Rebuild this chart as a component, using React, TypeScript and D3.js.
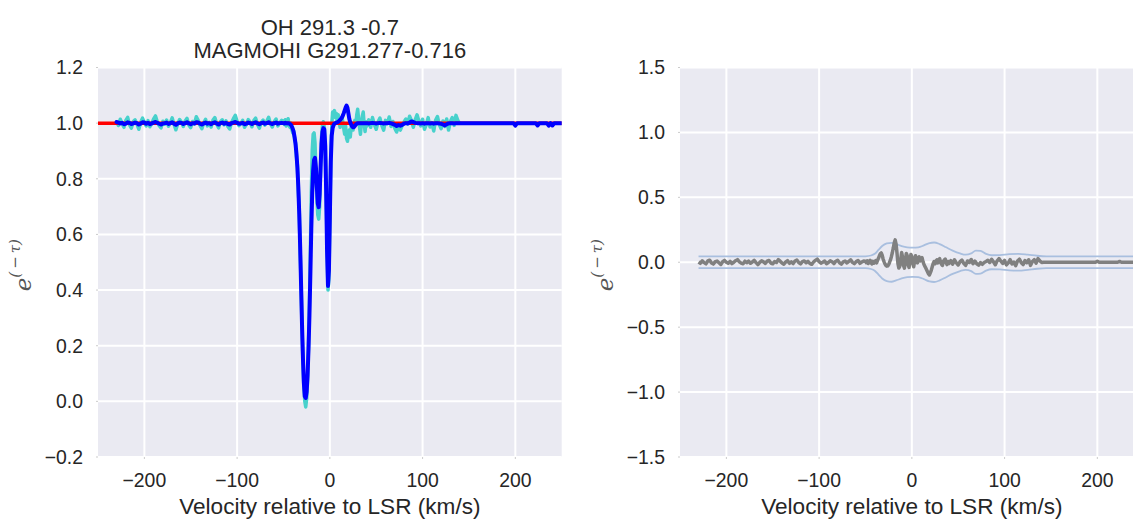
import React from 'react';
import * as d3 from 'd3';

const W = 1133;
const H = 521;

// Channel velocities (km/s): 2 km/s wings, 1 km/s across the absorption core
const velWing = d3.range(-230, -50, 2);
const velCore = d3.range(-50, 40, 1);
const velRed = d3.range(40, 141, 2);
const velTail = d3.range(142, 251, 2);

// Observed e^(-tau) spectrum
const dataWing = [
  1.005, 0.992, 1.014, 0.998, 0.985, 1.010, 1.021, 0.994, 0.982, 1.006,
  1.012, 0.996, 0.978, 1.003, 1.018, 1.002, 0.990, 1.009, 0.987, 0.999,
  1.015, 1.026, 1.004, 0.991, 0.983, 1.007, 0.996, 1.011, 0.989, 1.002,
  1.019, 0.995, 0.976, 0.998, 1.013, 1.004, 0.988, 1.008, 1.017, 0.993,
  0.984, 1.006, 0.997, 1.023, 1.010, 0.992, 0.980, 1.001, 1.014, 0.990,
  1.003, 0.986, 1.011, 1.020, 0.997, 0.983, 1.005, 1.012, 0.994, 1.008,
  0.988, 0.979, 1.002, 1.016, 1.028, 1.006, 0.991, 0.999, 1.010, 0.985,
  0.996, 1.013, 1.004, 0.987, 1.009, 1.018, 0.995, 0.982, 1.003, 1.011,
  0.993, 1.007, 1.021, 0.998, 0.986, 1.005, 1.015, 0.990, 1.002, 1.010,
];
const dataCore = [
  1.008, 0.995, 1.012, 0.990, 1.004, 1.016, 0.993, 0.985, 1.001, 0.978,
  0.965, 0.972, 0.940, 0.930, 0.880, 0.850, 0.760, 0.690, 0.540, 0.420,
  0.260, 0.140, 0.050, 0.000, -0.020, 0.010, 0.080, 0.200, 0.350, 0.540,
  0.750, 0.900, 0.960, 0.965, 0.930, 0.820, 0.730, 0.670, 0.655, 0.700,
  0.830, 0.950, 0.990, 1.005, 0.985, 0.930, 0.770, 0.560, 0.400, 0.440,
  0.650, 0.870, 0.990, 1.040, 1.030, 1.045, 1.020, 1.035, 1.005, 1.030,
  1.010, 0.985, 0.998, 1.020, 1.005, 0.980, 0.960, 0.990, 0.945, 0.935,
  0.960, 0.975, 0.950, 0.985, 1.000, 0.975, 0.990, 1.010, 0.995, 1.030,
  1.050, 1.015, 0.985, 0.960, 1.000, 1.025, 1.040, 0.995, 0.970, 1.005,
];
const dataRed = [
  0.990, 1.012, 0.985, 1.020, 0.995, 0.978, 1.005, 1.018, 0.992, 0.975,
  1.010, 0.998, 1.022, 0.988, 1.006, 0.982, 0.968, 0.990, 0.975, 0.992,
  1.004, 1.015, 0.997, 1.025, 1.010, 0.985, 1.012, 1.030, 1.008, 0.990,
  1.014, 0.978, 0.995, 1.020, 0.986, 1.002, 0.972, 1.010, 1.024, 0.995,
  0.980, 1.008, 0.988, 1.015, 0.975, 1.006, 1.020, 0.992, 1.028, 1.010,
  0.998,
];

// Gaussian fit to the spectrum
const fitWing = [
  1.004, 1.002, 0.999, 1.001, 0.996, 0.998, 1.003, 1.001, 0.997, 0.999,
  1.002, 1.000, 0.995, 0.998, 1.003, 1.002, 0.998, 1.001, 0.996, 0.999,
  1.002, 1.004, 1.001, 0.998, 0.995, 0.999, 1.000, 1.002, 0.997, 1.000,
  1.003, 0.998, 0.994, 0.999, 1.002, 1.001, 0.997, 1.000, 1.003, 0.999,
  0.996, 1.000, 0.999, 1.003, 1.002, 0.998, 0.995, 0.999, 1.002, 0.998,
  1.000, 0.996, 1.001, 1.003, 0.999, 0.995, 1.000, 1.002, 0.998, 1.001,
  0.997, 0.995, 1.000, 1.002, 1.004, 1.001, 0.998, 0.999, 1.001, 0.996,
  0.998, 1.002, 1.000, 0.997, 1.001, 1.003, 0.999, 0.996, 1.000, 1.002,
  0.998, 1.000, 1.003, 0.999, 0.997, 1.000, 1.002, 0.998, 1.000, 1.001,
];
const fitCore = [
  1.000, 0.999, 1.001, 1.000, 0.999, 1.000, 0.999, 0.997, 0.994, 0.988,
  0.980, 0.968, 0.950, 0.925, 0.890, 0.840, 0.770, 0.675, 0.555, 0.415,
  0.275, 0.155, 0.065, 0.018, 0.012, 0.035, 0.095, 0.190, 0.310, 0.460,
  0.620, 0.750, 0.830, 0.868, 0.875, 0.840, 0.770, 0.710, 0.698, 0.745,
  0.840, 0.925, 0.968, 0.982, 0.978, 0.920, 0.760, 0.540, 0.415, 0.470,
  0.660, 0.860, 0.955, 0.982, 0.993, 0.998, 1.000, 1.002, 1.003, 1.005,
  1.008, 1.011, 1.015, 1.020, 1.027, 1.036, 1.046, 1.056, 1.063, 1.055,
  1.035, 1.015, 1.003, 0.995, 0.988, 0.985, 0.986, 0.990, 0.995, 0.998,
  1.000, 1.000, 1.000, 1.000, 1.000, 1.000, 1.000, 1.000, 1.000, 1.000,
];
const fitRed = [
  1.000, 0.999, 1.000, 1.001, 1.000, 0.999, 1.000, 1.001, 1.000, 0.999,
  1.000, 1.000, 1.001, 0.999, 0.997, 0.994, 0.990, 0.993, 0.991, 0.994,
  0.998, 1.000, 0.999, 1.002, 1.006, 1.004, 1.001, 1.000, 1.000, 0.999,
  1.000, 0.998, 1.000, 1.000, 0.999, 1.000, 0.998, 1.000, 1.000, 0.999,
  0.998, 0.995, 0.992, 0.996, 0.999, 1.000, 1.000, 0.999, 1.000, 1.000,
  1.000,
];
const fitTail = [
  1.000, 1.000, 1.000, 1.000, 1.000, 1.000, 1.000, 1.000, 1.000, 1.000,
  1.000, 1.000, 1.000, 1.000, 1.000, 1.000, 1.000, 1.000, 1.000, 1.000,
  1.000, 1.000, 1.000, 1.000, 1.000, 1.000, 1.000, 1.000, 1.000, 0.991,
  1.000, 1.000, 1.000, 1.000, 1.000, 1.000, 1.000, 1.000, 1.000, 1.000,
  1.000, 0.992, 1.000, 1.000, 1.000, 1.000, 1.000, 0.991, 1.000, 0.992,
  1.000, 1.000, 1.000, 1.000, 1.000,
];

// Residuals (data minus fit)
const residWing = [
  0.002, -0.008, 0.011, -0.003, -0.012, 0.010, 0.016, -0.006, -0.014, 0.005,
  0.009, -0.004, -0.017, 0.004, 0.014, 0.000, -0.008, 0.007, -0.010, 0.000,
  0.012, 0.020, 0.003, -0.007, -0.012, 0.008, -0.004, 0.009, -0.008, 0.002,
  0.015, -0.003, -0.018, -0.001, 0.011, 0.003, -0.009, 0.008, 0.014, -0.006,
  -0.012, 0.006, -0.002, 0.020, 0.008, -0.006, -0.015, 0.002, 0.012, -0.008,
  0.003, -0.010, 0.010, 0.017, -0.002, -0.012, 0.005, 0.010, -0.004, 0.007,
  -0.009, -0.016, 0.002, 0.014, 0.024, 0.005, -0.007, 0.000, 0.009, -0.011,
  -0.002, 0.011, 0.004, -0.010, 0.008, 0.015, -0.004, -0.014, 0.003, 0.009,
  -0.005, 0.007, 0.018, -0.001, -0.011, 0.005, 0.013, -0.008, 0.002, 0.009,
];
const residCore = [
  0.008, -0.004, 0.011, -0.010, 0.005, 0.014, -0.006, -0.012, 0.007, -0.008,
  0.004, 0.012, -0.005, 0.015, 0.030, 0.050, 0.065, 0.072, 0.055, 0.025,
  0.005, -0.012, -0.025, -0.030, -0.028, -0.018, 0.000, 0.020, 0.045, 0.075,
  0.110, 0.150, 0.172, 0.140, 0.070, -0.010, -0.045, -0.030, 0.020, 0.075,
  0.040, -0.025, -0.045, 0.010, 0.068, 0.050, -0.020, -0.040, 0.015, 0.060,
  0.045, -0.010, -0.035, 0.010, 0.050, 0.030, -0.005, 0.020, 0.042, 0.010,
  0.025, 0.035, 0.005, -0.015, -0.030, -0.045, -0.060, -0.075, -0.090, -0.098,
  -0.080, -0.060, -0.035, -0.010, 0.005, -0.012, 0.010, 0.018, -0.005, 0.020,
  0.028, 0.002, -0.015, -0.025, 0.008, 0.018, 0.025, -0.005, -0.018, 0.006,
];
const residRed = [
  -0.010, 0.012, -0.015, 0.019, -0.005, -0.021, 0.005, 0.017, -0.008, -0.024,
  0.010, -0.002, 0.021, -0.011, 0.009, -0.012, -0.022, -0.003, -0.016, -0.002,
  0.006, 0.015, -0.002, 0.023, 0.004, -0.019, 0.011, 0.028, 0.008, -0.009,
  0.014, -0.020, -0.005, 0.020, -0.013, 0.002, -0.026, 0.010, 0.024, -0.004,
  -0.018, 0.013, -0.004, 0.019, -0.024, 0.006, 0.020, -0.007, 0.028, 0.010,
  -0.002,
];
const residTail = [
  0, 0, 0, 0, 0, 0, 0, 0, 0, 0,
  0, 0, 0, 0, 0, 0, 0, 0, 0, 0,
  0, 0, 0, 0, 0, 0, 0, 0, 0, 0.008,
  0, 0, 0, 0, 0, 0, 0, 0, 0, 0,
  0, 0.006, 0, 0, 0, 0, 0, 0, 0, 0,
  0, 0, 0, 0, 0,
];

// 1-sigma noise envelope for the residuals
const sigmaVel = [
  -230, -50, -44, -40, -36, -32, -27, -22, -17, -11, -5, 1, 7, 13, 19, 24, 30,
  37, 44, 52, 58, 64, 69, 74, 80, 86, 95, 105, 115, 125, 135, 145, 250,
];
const sigmaVal = [
  0.046, 0.046, 0.052, 0.065, 0.095, 0.125, 0.145, 0.150, 0.140, 0.125, 0.115,
  0.112, 0.115, 0.130, 0.148, 0.152, 0.140, 0.115, 0.090, 0.068, 0.058, 0.068,
  0.090, 0.088, 0.065, 0.054, 0.055, 0.062, 0.064, 0.058, 0.050, 0.046, 0.046,
];

const continuumLevel = 1.0;
const xTicks = [-200, -100, 0, 100, 200];
const leftYTicks = [-0.2, 0.0, 0.2, 0.4, 0.6, 0.8, 1.0, 1.2];
const rightYTicks = [-1.5, -1.0, -0.5, 0.0, 0.5, 1.0, 1.5];
const titleLines = ['OH 291.3 -0.7', 'MAGMOHI G291.277-0.716'];
const xLabel = 'Velocity relative to LSR (km/s)';

type Pt = [number, number];
const zip = (v: number[], y: number[]): Pt[] =>
  v.slice(0, Math.min(v.length, y.length)).map((d, i) => [d, y[i]] as Pt);

const dataSeries: Pt[] = [
  ...zip(velWing, dataWing),
  ...zip(velCore, dataCore),
  ...zip(velRed, dataRed),
];
const fitSeries: Pt[] = [
  ...zip(velWing, fitWing),
  ...zip(velCore, fitCore),
  ...zip(velRed, fitRed),
  ...zip(velTail, fitTail),
];
const residSeries: Pt[] = [
  ...zip(velWing, residWing),
  ...zip(velCore, residCore),
  ...zip(velRed, residRed),
  ...zip(velTail, residTail),
];
const sigmaSeries: Pt[] = zip(sigmaVel, sigmaVal);

const FONT = '"Liberation Sans", Arial, sans-serif';
const TEXT = '#262626';
const BG = '#EAEAF2';

type Box = { left: number; right: number; top: number; bottom: number };

function Panel({
  box,
  yTicks,
  children,
  x,
  y,
}: {
  box: Box;
  yTicks: number[];
  children: React.ReactNode;
  x: d3.ScaleLinear<number, number>;
  y: d3.ScaleLinear<number, number>;
}) {
  const fmtY = d3.format('.1f');
  const fmtX = d3.format('d');
  const cx = (box.left + box.right) / 2;
  const cy = (box.top + box.bottom) / 2;
  return (
    <g>
      <rect
        x={box.left}
        y={box.top}
        width={box.right - box.left}
        height={box.bottom - box.top}
        fill={BG}
      />
      {xTicks.map((t) => (
        <line
          key={'gx' + t}
          x1={x(t)}
          x2={x(t)}
          y1={box.top}
          y2={box.bottom}
          stroke="#fff"
          strokeWidth={2}
        />
      ))}
      {yTicks.map((t) => (
        <line
          key={'gy' + t}
          x1={box.left}
          x2={box.right}
          y1={y(t)}
          y2={y(t)}
          stroke="#fff"
          strokeWidth={2}
        />
      ))}
      {children}
      {yTicks.map((t) => (
        <g key={'ty' + t}>
          <rect x={box.left - 1.5} y={y(t) - 0.5} width={1} height={1} fill="#999" />
          <text
            x={box.left - 15}
            y={y(t)}
            dy="0.36em"
            textAnchor="end"
            fontFamily={FONT}
            fontSize={19.4}
            fill={TEXT}
          >
            {fmtY(t)}
          </text>
        </g>
      ))}
      {xTicks.map((t) => (
        <g key={'tx' + t}>
          <rect x={x(t) - 0.5} y={box.bottom + 0.5} width={1} height={1} fill="#999" />
          <text
            x={x(t)}
            y={box.bottom + 30}
            textAnchor="middle"
            fontFamily={FONT}
            fontSize={19.4}
            fill={TEXT}
          >
            {fmtX(t)}
          </text>
        </g>
      ))}
      <text
        x={cx}
        y={514}
        textAnchor="middle"
        fontFamily={FONT}
        fontSize={22.6}
        fill={TEXT}
      >
        {xLabel}
      </text>
      <text
        transform={`translate(${box.left - 67},${cy + 3}) rotate(-90)`}
        textAnchor="middle"
        fontFamily='"DejaVu Serif", "Liberation Serif", serif'
        fontStyle="italic"
        fill="#555"
      >
        <tspan fontSize={23}>e</tspan>
        <tspan fontSize={15} dy={-11}>
          {'(\u2009\u2212\u2009\u03C4)'}
        </tspan>
      </text>
    </g>
  );
}

export default function App() {
  const L: Box = { left: 98, right: 561.7, top: 67.5, bottom: 457 };
  const R: Box = { left: 680, right: 1143.7, top: 67.5, bottom: 457 };

  const xL = d3.scaleLinear().domain([-250, 250]).range([L.left, L.right]);
  const yL = d3.scaleLinear().domain([-0.2, 1.2]).range([L.bottom, L.top]);
  const xR = d3.scaleLinear().domain([-250, 250]).range([R.left, R.right]);
  const yR = d3.scaleLinear().domain([-1.5, 1.5]).range([R.bottom, R.top]);

  const lineL = d3
    .line<Pt>()
    .x((d) => xL(d[0]))
    .y((d) => yL(d[1]));
  const lineR = d3
    .line<Pt>()
    .x((d) => xR(d[0]))
    .y((d) => yR(d[1]));
  const sigmaUp = d3
    .line<Pt>()
    .curve(d3.curveMonotoneX)
    .x((d) => xR(d[0]))
    .y((d) => yR(d[1]));
  const sigmaDown = d3
    .line<Pt>()
    .curve(d3.curveMonotoneX)
    .x((d) => xR(d[0]))
    .y((d) => yR(-d[1]));

  const continuum: Pt[] = [
    [-250, continuumLevel],
    [250, continuumLevel],
  ];

  return (
    <svg
      width={W}
      height={H}
      viewBox={`0 0 ${W} ${H}`}
      style={{ position: 'absolute', left: 0, top: 0, background: '#fff' }}
    >
      <defs>
        <clipPath id="clipL">
          <rect x={L.left} y={L.top} width={L.right - L.left} height={L.bottom - L.top} />
        </clipPath>
        <clipPath id="clipR">
          <rect x={R.left} y={R.top} width={R.right - R.left} height={R.bottom - R.top} />
        </clipPath>
      </defs>

      <Panel box={L} yTicks={leftYTicks} x={xL} y={yL}>
        <g clipPath="url(#clipL)">
          <path d={lineL(dataSeries) || ''} fill="none" stroke="#48D1CC" strokeWidth={3.5} strokeLinejoin="round" />
          <path d={lineL(continuum) || ''} fill="none" stroke="#FF0000" strokeWidth={3.5} />
          <path d={lineL(fitSeries) || ''} fill="none" stroke="#0000FF" strokeWidth={4} strokeLinejoin="round" strokeLinecap="round" />
        </g>
      </Panel>

      <Panel box={R} yTicks={rightYTicks} x={xR} y={yR}>
        <g clipPath="url(#clipR)">
          <path d={sigmaUp(sigmaSeries) || ''} fill="none" stroke="#A9BFDF" strokeWidth={1.8} />
          <path d={sigmaDown(sigmaSeries) || ''} fill="none" stroke="#A9BFDF" strokeWidth={1.8} />
          <path d={lineR(residSeries) || ''} fill="none" stroke="#808080" strokeWidth={3.5} strokeLinejoin="round" />
        </g>
      </Panel>

      {titleLines.map((t, i) => (
        <text
          key={t}
          x={xL(0)}
          y={34.5 + i * 23}
          textAnchor="middle"
          fontFamily={FONT}
          fontSize={22}
          fill={TEXT}
        >
          {t}
        </text>
      ))}
    </svg>
  );
}
